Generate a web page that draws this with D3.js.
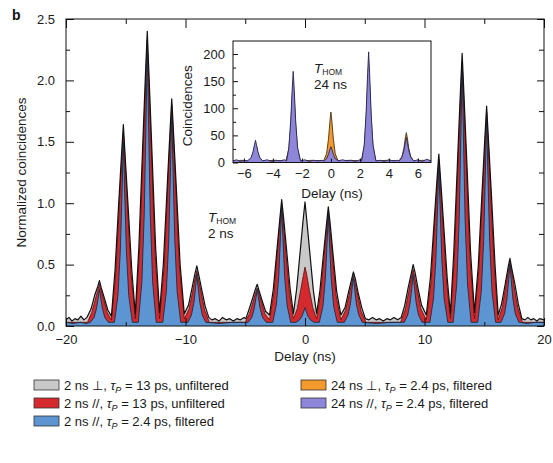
<!DOCTYPE html>
<html>
<head>
<meta charset="utf-8">
<script src="https://cdn.jsdelivr.net/npm/d3@7"></script>
<style>
  html, body { margin: 0; padding: 0; background: #fff; }
  svg { display: block; font-family: "Liberation Sans", Arial, Helvetica, sans-serif; }
</style>
</head>
<body>
<svg id="chart" width="553" height="463"></svg>
<script>
// ---------- Main panel: normalized coincidences vs delay (ns), T_HOM = 2 ns ----------
// [delay (ns), normalized coincidences]
const grayTrace = [ // 2 ns ⊥, τP = 13 ps, unfiltered
  [-20,0.05],[-19.75,0.07],[-19.5,0.04],[-19.25,0.06],[-19,0.05],[-18.75,0.08],[-18.5,0.05],[-18.25,0.07],
  [-17.9,0.14],[-17.6,0.25],[-17.35,0.32],[-17.2,0.37],[-17.05,0.31],[-16.8,0.23],[-16.5,0.13],
  [-16.2,0.08],
  [-15.9,0.45],[-15.6,0.98],[-15.35,1.40],[-15.2,1.64],[-15.05,1.38],[-14.8,0.97],[-14.5,0.46],
  [-14.2,0.10],
  [-13.9,0.65],[-13.6,1.42],[-13.35,2.05],[-13.2,2.40],[-13.05,2.03],[-12.8,1.40],[-12.5,0.64],
  [-12.17,0.11],
  [-11.85,0.51],[-11.55,1.10],[-11.3,1.58],[-11.15,1.85],[-11.0,1.57],[-10.75,1.09],[-10.45,0.50],
  [-10.1,0.10],
  [-9.75,0.17],[-9.45,0.31],[-9.2,0.43],[-9.05,0.49],[-8.9,0.42],[-8.65,0.30],[-8.35,0.16],
  [-8.05,0.07],[-7.8,0.05],[-7.5,0.06],[-7.2,0.04],[-6.9,0.07],[-6.6,0.05],[-6.3,0.06],[-6.0,0.04],
  [-5.7,0.06],[-5.4,0.05],[-5.1,0.07],[-4.95,0.06],
  [-4.7,0.13],[-4.4,0.22],[-4.15,0.30],[-4.0,0.34],[-3.85,0.29],[-3.6,0.21],[-3.3,0.12],
  [-2.97,0.09],
  [-2.65,0.30],[-2.35,0.62],[-2.1,0.88],[-1.95,1.03],[-1.8,0.89],[-1.55,0.63],[-1.25,0.31],
  [-0.97,0.10],
  [-0.7,0.30],[-0.4,0.61],[-0.15,0.87],[0,1.01],[0.15,0.86],[0.4,0.60],[0.7,0.29],
  [0.97,0.10],
  [1.25,0.29],[1.55,0.59],[1.8,0.83],[1.95,0.97],[2.1,0.84],[2.35,0.58],[2.65,0.28],
  [3.0,0.09],
  [3.35,0.15],[3.65,0.28],[3.9,0.38],[4.05,0.44],[4.2,0.39],[4.45,0.27],[4.75,0.15],
  [5.05,0.06],[5.35,0.05],[5.65,0.07],[5.95,0.05],[6.25,0.06],[6.55,0.04],[6.85,0.06],[7.15,0.05],
  [7.45,0.07],[7.75,0.05],[8.05,0.07],
  [8.35,0.17],[8.65,0.32],[8.9,0.43],[9.05,0.50],[9.2,0.44],[9.45,0.31],[9.75,0.17],
  [10.15,0.09],
  [10.5,0.40],[10.8,0.84],[11.05,1.20],[11.2,1.40],[11.35,1.19],[11.6,0.83],[11.9,0.39],
  [12.17,0.10],
  [12.45,0.60],[12.75,1.31],[13.0,1.90],[13.15,2.22],[13.3,1.89],[13.55,1.32],[13.85,0.61],
  [14.18,0.11],
  [14.5,0.49],[14.8,1.06],[15.05,1.53],[15.2,1.79],[15.35,1.52],[15.6,1.07],[15.9,0.50],
  [16.17,0.09],
  [16.45,0.18],[16.75,0.34],[17.0,0.48],[17.15,0.55],[17.3,0.47],[17.55,0.35],[17.85,0.18],
  [18.15,0.06],[18.4,0.05],[18.65,0.07],[18.9,0.05],[19.15,0.06],[19.4,0.04],[19.65,0.06],[20,0.05]
];

const redTrace = [ // 2 ns //, τP = 13 ps, unfiltered
  [-20,0.03],[-18.2,0.03],
  [-17.85,0.11],[-17.57,0.21],[-17.34,0.29],[-17.2,0.34],[-17.06,0.29],[-16.83,0.21],[-16.55,0.11],
  [-16.2,0.05],
  [-15.85,0.42],[-15.57,0.93],[-15.34,1.35],[-15.2,1.58],[-15.06,1.35],[-14.83,0.93],[-14.55,0.42],
  [-14.2,0.06],
  [-13.85,0.61],[-13.57,1.36],[-13.34,1.99],[-13.2,2.33],[-13.06,1.98],[-12.83,1.36],[-12.55,0.60],
  [-12.17,0.06],
  [-11.8,0.47],[-11.52,1.06],[-11.29,1.54],[-11.15,1.80],[-11.01,1.53],[-10.78,1.06],[-10.5,0.47],
  [-10.1,0.06],
  [-9.7,0.14],[-9.42,0.27],[-9.19,0.39],[-9.05,0.45],[-8.91,0.38],[-8.68,0.27],[-8.4,0.13],
  [-8.0,0.03],[-5.0,0.03],
  [-4.65,0.10],[-4.37,0.19],[-4.14,0.27],[-4.0,0.31],[-3.86,0.27],[-3.63,0.19],[-3.35,0.10],
  [-2.97,0.05],
  [-2.6,0.27],[-2.32,0.59],[-2.09,0.85],[-1.95,0.99],[-1.81,0.84],[-1.58,0.58],[-1.3,0.27],
  [-0.97,0.06],
  [-0.65,0.14],[-0.37,0.29],[-0.14,0.41],[0,0.48],[0.14,0.42],[0.37,0.29],[0.65,0.15],
  [0.97,0.06],
  [1.3,0.26],[1.58,0.55],[1.81,0.80],[1.95,0.93],[2.09,0.79],[2.32,0.55],[2.6,0.25],
  [3.0,0.05],
  [3.4,0.13],[3.68,0.25],[3.91,0.35],[4.05,0.41],[4.19,0.35],[4.42,0.25],[4.7,0.12],
  [5.1,0.03],[8.0,0.03],
  [8.4,0.14],[8.68,0.28],[8.91,0.40],[9.05,0.46],[9.19,0.39],[9.42,0.28],[9.7,0.14],
  [10.15,0.05],
  [10.55,0.36],[10.83,0.80],[11.06,1.15],[11.2,1.35],[11.34,1.15],[11.57,0.79],[11.85,0.36],
  [12.17,0.06],
  [12.5,0.56],[12.78,1.26],[13.01,1.83],[13.15,2.15],[13.29,1.83],[13.52,1.26],[13.8,0.56],
  [14.18,0.06],
  [14.55,0.46],[14.83,1.02],[15.06,1.48],[15.2,1.74],[15.34,1.49],[15.57,1.02],[15.85,0.46],
  [16.17,0.05],
  [16.5,0.15],[16.78,0.31],[17.01,0.45],[17.15,0.52],[17.29,0.45],[17.52,0.31],[17.8,0.15],
  [18.2,0.03],[20,0.03]
];

const blueTrace = [ // 2 ns //, τP = 2.4 ps, filtered
  [-20,0.03],[-19.4,0.02],[-18.8,0.03],[-18.3,0.02],
  [-17.95,0.03],[-17.65,0.07],[-17.45,0.14],[-17.3,0.23],[-17.2,0.30],[-17.1,0.23],[-16.95,0.14],[-16.75,0.07],[-16.45,0.03],
  [-15.95,0.03],[-15.65,0.25],[-15.45,0.62],[-15.3,1.13],[-15.2,1.50],[-15.1,1.13],[-14.95,0.62],[-14.75,0.25],[-14.45,0.03],
  [-13.95,0.03],[-13.65,0.36],[-13.45,0.92],[-13.3,1.70],[-13.2,2.25],[-13.1,1.70],[-12.95,0.92],[-12.75,0.36],[-12.45,0.03],
  [-11.9,0.03],[-11.6,0.28],[-11.4,0.71],[-11.25,1.30],[-11.15,1.72],[-11.05,1.30],[-10.9,0.71],[-10.7,0.28],[-10.4,0.03],
  [-9.8,0.03],[-9.5,0.09],[-9.3,0.19],[-9.15,0.32],[-9.05,0.42],[-8.95,0.32],[-8.8,0.19],[-8.6,0.09],[-8.3,0.03],
  [-7.2,0.02],[-6.0,0.03],
  [-4.75,0.03],[-4.45,0.07],[-4.25,0.14],[-4.1,0.23],[-4.0,0.30],[-3.9,0.23],[-3.75,0.14],[-3.55,0.07],[-3.25,0.03],
  [-2.7,0.03],[-2.4,0.17],[-2.2,0.40],[-2.05,0.73],[-1.95,0.96],[-1.85,0.73],[-1.7,0.40],[-1.5,0.17],[-1.2,0.03],
  [-0.75,0.03],[-0.45,0.05],[-0.25,0.08],[-0.1,0.12],[0,0.15],[0.1,0.12],[0.25,0.08],[0.45,0.05],[0.75,0.03],
  [1.2,0.03],[1.5,0.16],[1.7,0.38],[1.85,0.68],[1.95,0.90],[2.05,0.68],[2.2,0.38],[2.4,0.16],[2.7,0.03],
  [3.3,0.03],[3.6,0.09],[3.8,0.18],[3.95,0.31],[4.05,0.40],[4.15,0.31],[4.3,0.18],[4.5,0.09],[4.8,0.03],
  [6.0,0.02],[7.2,0.03],
  [8.3,0.03],[8.6,0.09],[8.8,0.19],[8.95,0.32],[9.05,0.42],[9.15,0.32],[9.3,0.19],[9.5,0.09],[9.8,0.03],
  [10.45,0.03],[10.75,0.22],[10.95,0.54],[11.1,0.98],[11.2,1.30],[11.3,0.98],[11.45,0.54],[11.65,0.22],[11.95,0.03],
  [12.4,0.03],[12.7,0.34],[12.9,0.86],[13.05,1.58],[13.15,2.10],[13.25,1.58],[13.4,0.86],[13.6,0.34],[13.9,0.03],
  [14.45,0.03],[14.75,0.28],[14.95,0.69],[15.1,1.27],[15.2,1.68],[15.3,1.27],[15.45,0.69],[15.65,0.28],[15.95,0.03],
  [16.4,0.03],[16.7,0.10],[16.9,0.22],[17.05,0.38],[17.15,0.50],[17.25,0.38],[17.4,0.22],[17.6,0.10],[17.9,0.03],
  [18.6,0.02],[19.3,0.03],[20,0.03]
];

// ---------- Inset: raw coincidences vs delay (ns), T_HOM = 24 ns ----------
const orangeTrace = [ // 24 ns ⊥, τP = 2.4 ps, filtered
  [-6.75,3],[-6.2,4],[-5.7,3],
  [-5.5,8],[-5.37,17],[-5.27,29],[-5.2,35],[-5.13,29],[-5.03,17],[-4.9,8],[-4.7,3],
  [-3.9,4],[-3.1,3],
  [-2.9,25],[-2.77,69],[-2.67,121],[-2.6,150],[-2.53,121],[-2.43,69],[-2.3,25],[-2.1,3],
  [-1.3,4],[-0.5,3],
  [-0.3,16],[-0.17,43],[-0.07,75],[0,93],[0.07,75],[0.17,43],[0.3,16],[0.5,3],
  [1.3,4],[2.1,3],
  [2.3,30],[2.43,83],[2.53,145],[2.6,180],[2.67,145],[2.77,83],[2.9,30],[3.1,3],
  [3.9,4],[4.7,3],
  [4.9,11],[5.03,26],[5.13,45],[5.2,55],[5.27,45],[5.37,26],[5.5,11],[5.7,3],
  [6.3,4],[6.9,3]
];

const purpleTrace = [ // 24 ns //, τP = 2.4 ps, filtered
  [-6.75,3],[-6.5,5],[-6.25,2],[-6.0,4],[-5.75,3],
  [-5.5,9],[-5.37,20],[-5.27,33],[-5.2,41],[-5.13,33],[-5.03,20],[-4.9,9],[-4.7,3],
  [-4.4,5],[-4.1,2],[-3.8,4],[-3.5,3],[-3.2,5],
  [-3.05,3],[-2.9,28],[-2.77,77],[-2.67,135],[-2.6,168],[-2.53,135],[-2.43,77],[-2.3,28],[-2.1,3],
  [-1.8,5],[-1.5,2],[-1.2,4],[-0.9,3],[-0.6,4],
  [-0.45,3],[-0.3,7],[-0.17,15],[-0.07,24],[0,29],[0.07,24],[0.17,15],[0.3,7],[0.5,3],
  [0.8,5],[1.1,3],[1.4,4],[1.7,2],[2.0,5],
  [2.12,3],[2.3,33],[2.43,93],[2.53,164],[2.6,204],[2.67,164],[2.77,93],[2.9,33],[3.1,3],
  [3.4,4],[3.7,2],[4.0,5],[4.3,3],[4.6,4],
  [4.72,3],[4.9,10],[5.03,22],[5.13,37],[5.2,46],[5.27,37],[5.37,22],[5.5,10],[5.7,3],
  [6.0,5],[6.3,2],[6.6,6],[6.9,3]
];

// ---------- Axis ticks ----------
const mainDelayTicks = [-20, -10, 0, 10, 20];
const mainDelayMinor = [-15, -5, 5, 15];
const mainYTicks = [0, 0.5, 1.0, 1.5, 2.0, 2.5];
const mainYMinor = [0.25, 0.75, 1.25, 1.75, 2.25];
const insetDelayTicks = [-6, -4, -2, 0, 2, 4, 6];
const insetYTicks = [0, 50, 100, 150, 200];
const insetYMinor = [25, 75, 125, 175];

// ---------- Legend text ----------
const legendPrefix = ["2 ns \u22A5, ", "2 ns //, ", "2 ns //, ", "24 ns \u22A5, ", "24 ns //, "];
const legendSuffix = [" = 13 ps, unfiltered", " = 13 ps, unfiltered", " = 2.4 ps, filtered",
                      " = 2.4 ps, filtered", " = 2.4 ps, filtered"];

// ---------- Drawing ----------
const svg = d3.select("#chart");
const FONT = "'Liberation Sans', Arial, Helvetica, sans-serif";
const TXT = "#1a1a1a";

const fills   = ["#c9c9c9", "#d42a2e", "#5c95d2", "#f49a2c", "#8e86d8"];
const strokes = ["#111111", "#5a0c0c", "#1a2c46", "#4a3216", "#29254f"];

const M = { left: 66, right: 544, top: 19, bottom: 326 };
const x = d3.scaleLinear().domain([-20, 20]).range([M.left, M.right]);
const y = d3.scaleLinear().domain([0, 2.5]).range([M.bottom, M.top]);

svg.append("defs").append("clipPath").attr("id", "mainClip")
  .append("rect").attr("x", M.left).attr("y", M.top)
  .attr("width", M.right - M.left).attr("height", M.bottom - M.top);

const plot = svg.append("g").attr("clip-path", "url(#mainClip)");

function drawTrace(g, data, xs, ys, fill, stroke, sw) {
  const area = d3.area().x(d => xs(d[0])).y0(ys(0)).y1(d => ys(d[1]));
  g.append("path").datum(data).attr("d", area).attr("fill", fill);
  return () => {
    const line = d3.line().x(d => xs(d[0])).y(d => ys(d[1]));
    g.append("path").datum(data).attr("d", line).attr("fill", "none")
      .attr("stroke", stroke).attr("stroke-width", sw).attr("stroke-linejoin", "round");
  };
}

const lineGray = drawTrace(plot, grayTrace, x, y, fills[0], strokes[0], 1.2);
const lineRed  = drawTrace(plot, redTrace,  x, y, fills[1], strokes[1], 0.8);
const lineBlue = drawTrace(plot, blueTrace, x, y, fills[2], strokes[2], 0.9);
lineRed(); lineBlue(); lineGray();

function styleAxis(g, size) {
  g.select(".domain").remove();
  g.selectAll(".tick line").attr("stroke", "#111").attr("stroke-width", 1);
  g.selectAll(".tick text").attr("fill", TXT).attr("font-size", size).attr("font-family", FONT);
}

const fmt1 = d3.format(".1f");
const fmt0 = d3.format("d");

// main axes (ticks point inward on all four sides)
svg.append("g").attr("transform", `translate(0,${M.bottom})`)
  .call(d3.axisBottom(x).tickValues(mainDelayTicks).tickSize(-8).tickPadding(9).tickFormat(fmt0))
  .call(g => styleAxis(g, 13));
svg.append("g").attr("transform", `translate(0,${M.bottom})`)
  .call(d3.axisBottom(x).tickValues(mainDelayMinor).tickSize(-4).tickFormat(""))
  .call(g => styleAxis(g, 13));
svg.append("g").attr("transform", `translate(0,${M.top})`)
  .call(d3.axisTop(x).tickValues(mainDelayTicks).tickSize(-9).tickFormat(""))
  .call(g => styleAxis(g, 13));
svg.append("g").attr("transform", `translate(0,${M.top})`)
  .call(d3.axisTop(x).tickValues(mainDelayMinor).tickSize(-5).tickFormat(""))
  .call(g => styleAxis(g, 13));
svg.append("g").attr("transform", `translate(${M.left},0)`)
  .call(d3.axisLeft(y).tickValues(mainYTicks).tickSize(-8).tickPadding(11).tickFormat(fmt1))
  .call(g => styleAxis(g, 13));
svg.append("g").attr("transform", `translate(${M.left},0)`)
  .call(d3.axisLeft(y).tickValues(mainYMinor).tickSize(-4).tickFormat(""))
  .call(g => styleAxis(g, 13));
svg.append("g").attr("transform", `translate(${M.right},0)`)
  .call(d3.axisRight(y).tickValues(mainYTicks).tickSize(-7).tickFormat(""))
  .call(g => styleAxis(g, 13));
svg.append("g").attr("transform", `translate(${M.right},0)`)
  .call(d3.axisRight(y).tickValues(mainYMinor).tickSize(-5).tickFormat(""))
  .call(g => styleAxis(g, 13));

svg.append("rect").attr("x", M.left).attr("y", M.top)
  .attr("width", M.right - M.left).attr("height", M.bottom - M.top)
  .attr("fill", "none").attr("stroke", "#111").attr("stroke-width", 1);

// main titles
svg.append("text").attr("x", (M.left + M.right) / 2).attr("y", 361)
  .attr("text-anchor", "middle").attr("font-size", 13.5).attr("fill", TXT)
  .attr("font-family", FONT).text("Delay (ns)");
svg.append("text").attr("transform", `translate(26,${(M.top + M.bottom) / 2}) rotate(-90)`)
  .attr("text-anchor", "middle").attr("font-size", 13.5).attr("fill", TXT)
  .attr("font-family", FONT).text("Normalized coincidences");

// panel letter
svg.append("text").attr("x", 12).attr("y", 20).attr("font-size", 14).attr("font-weight", "bold")
  .attr("fill", "#111").attr("font-family", FONT).text("b");

// T_HOM annotation: italic T with subscript, value on the line below
function thom(xp, yp, value) {
  const t = svg.append("text").attr("x", xp).attr("y", yp).attr("fill", TXT).attr("font-family", FONT);
  t.append("tspan").attr("font-style", "italic").attr("font-size", 13.5).text("T");
  t.append("tspan").attr("font-size", 8.5).attr("dy", 2).text("HOM");
  svg.append("text").attr("x", xp).attr("y", yp + 16).attr("fill", TXT).attr("font-family", FONT)
    .attr("font-size", 13.5).text(value);
}
thom(208, 222, "2 ns");

// ---------- Inset ----------
const I = { left: 233, right: 431, top: 41, bottom: 162.5 };
const xi = d3.scaleLinear().domain([-6.75, 6.9]).range([I.left, I.right]);
const yi = d3.scaleLinear().domain([0, 224]).range([I.bottom, I.top]);

svg.append("rect").attr("x", I.left).attr("y", I.top)
  .attr("width", I.right - I.left).attr("height", I.bottom - I.top).attr("fill", "#fff");
svg.select("defs").append("clipPath").attr("id", "insetClip")
  .append("rect").attr("x", I.left).attr("y", I.top)
  .attr("width", I.right - I.left).attr("height", I.bottom - I.top);
const inset = svg.append("g").attr("clip-path", "url(#insetClip)");
const lineOrange = drawTrace(inset, orangeTrace, xi, yi, fills[3], strokes[3], 0.9);
lineOrange();
const linePurple = drawTrace(inset, purpleTrace, xi, yi, fills[4], strokes[4], 0.9);
linePurple();

svg.append("g").attr("transform", `translate(0,${I.bottom})`)
  .call(d3.axisBottom(xi).tickValues(insetDelayTicks).tickSize(-4).tickPadding(6).tickFormat(fmt0))
  .call(g => styleAxis(g, 13));
svg.append("g").attr("transform", `translate(${I.left},0)`)
  .call(d3.axisLeft(yi).tickValues(insetYTicks).tickSize(-5).tickPadding(8).tickFormat(fmt0))
  .call(g => styleAxis(g, 13));
svg.append("g").attr("transform", `translate(${I.left},0)`)
  .call(d3.axisLeft(yi).tickValues(insetYMinor).tickSize(-3).tickFormat(""))
  .call(g => styleAxis(g, 13));
svg.append("rect").attr("x", I.left).attr("y", I.top)
  .attr("width", I.right - I.left).attr("height", I.bottom - I.top)
  .attr("fill", "none").attr("stroke", "#111").attr("stroke-width", 1);

svg.append("text").attr("x", (I.left + I.right) / 2).attr("y", 197.5)
  .attr("text-anchor", "middle").attr("font-size", 13.5).attr("fill", TXT)
  .attr("font-family", FONT).text("Delay (ns)");
svg.append("text").attr("transform", `translate(192,${(I.top + I.bottom) / 2 + 4}) rotate(-90)`)
  .attr("text-anchor", "middle").attr("font-size", 13.5).attr("fill", TXT)
  .attr("font-family", FONT).text("Coincidences");
thom(314, 73, "24 ns");

// ---------- Legend ----------
const legend = svg.append("g");
legendPrefix.forEach((pre, i) => {
  const col = i < 3 ? 0 : 1;
  const row = i < 3 ? i : i - 3;
  const sx = col === 0 ? 34 : 301;
  const cy = 385 + row * 18;
  legend.append("rect").attr("x", sx).attr("y", cy - 5).attr("width", 25).attr("height", 10)
    .attr("fill", fills[i]).attr("stroke", "#333").attr("stroke-width", 0.8);
  const t = legend.append("text").attr("x", sx + 30).attr("y", cy + 4.5)
    .attr("font-size", 13).attr("fill", TXT).attr("font-family", FONT);
  t.append("tspan").text(pre);
  t.append("tspan").attr("font-style", "italic").text("\u03C4");
  t.append("tspan").attr("font-style", "italic").attr("font-size", 9).attr("dy", 3).text("P");
  t.append("tspan").attr("dy", -3).text(legendSuffix[i]);
});
</script>
</body>
</html>
